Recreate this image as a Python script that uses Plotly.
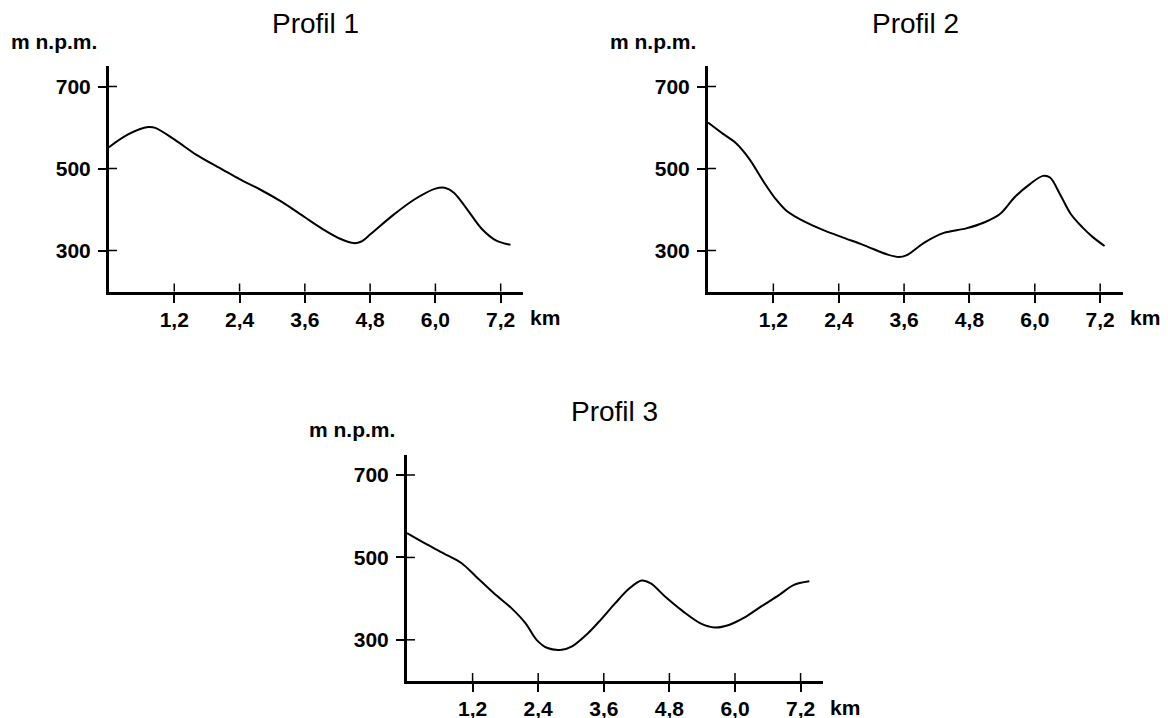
import plotly.graph_objects as go

# ---- data ----
dist1 = [0, 0.35, 0.72, 0.85, 1.2, 1.6, 2.08, 2.4, 2.76, 3.17, 3.6, 3.92, 4.26, 4.5,
         4.64, 4.81, 5.21, 5.62, 6.0, 6.17, 6.34, 6.58, 6.85, 7.12, 7.38]
elev1 = [552, 583, 601, 599, 571, 534, 498, 474, 450, 419, 381, 353, 328, 318,
         322, 340, 385, 425, 451, 453, 441, 401, 353, 324, 314]

dist2 = [0, 0.27, 0.52, 0.76, 1.03, 1.24, 1.44, 1.79, 2.13, 2.47, 2.88, 3.3, 3.5, 3.64,
         3.98, 4.33, 4.74, 5.08, 5.36, 5.63, 5.91, 6.15, 6.28, 6.46, 6.66, 6.87, 7.07, 7.28]
elev2 = [612, 585, 561, 523, 466, 426, 397, 369, 349, 332, 312, 290, 284, 288,
         320, 343, 354, 369, 389, 430, 462, 482, 478, 438, 389, 357, 332, 311]

dist3 = [0, 0.33, 0.67, 1.0, 1.26, 1.59, 1.91, 2.17, 2.37, 2.57, 2.83, 3.02, 3.28, 3.54,
         3.81, 4.07, 4.29, 4.46, 4.72, 5.05, 5.37, 5.63, 5.89, 6.16, 6.48, 6.81, 7.07, 7.36]
elev3 = [559, 534, 510, 486, 454, 413, 377, 340, 300, 280, 276, 284, 312, 348,
         389, 425, 444, 437, 405, 369, 340, 330, 336, 353, 381, 409, 433, 442]

titles = ["Profil 1", "Profil 2", "Profil 3"]
x_tickvals = [1.2, 2.4, 3.6, 4.8, 6.0, 7.2]
x_ticktext = ["1,2", "2,4", "3,6", "4,8", "6,0", "7,2"]
y_tickvals = [300, 500, 700]
y_unit = "m n.p.m."
x_unit = "km"
x_range = [0, 7.61]
y_range = [200, 750]

series = [(dist1, elev1), (dist2, elev2), (dist3, elev3)]

# ---- layout geometry (compensating the page's 8px body margin) ----
W, H = 1168, 718
domains = [
    ((0.08647, 0.44092), (0.60515, 0.91922)),
    ((0.59932, 0.95420), (0.60515, 0.91922)),
    ((0.34161, 0.69777), (0.06267, 0.37813)),
]

FONT = "Liberation Sans, Arial, sans-serif"
fig = go.Figure()
shapes = []
annotations = []
layout = dict(
    width=W, height=H, autosize=False,
    margin=dict(l=0, r=0, t=0, b=0),
    paper_bgcolor="white", plot_bgcolor="white",
    showlegend=False,
    font=dict(family=FONT, color="black"),
)

for i, ((xs, ys), (xd, yd), title) in enumerate(zip(series, domains, titles)):
    n = "" if i == 0 else str(i + 1)
    xa, ya = "x" + n, "y" + n
    fig.add_trace(go.Scatter(
        x=xs, y=ys, mode="lines", xaxis=xa, yaxis=ya,
        line=dict(color="black", width=2, shape="spline", smoothing=0.9),
        hoverinfo="skip",
    ))
    layout["xaxis" + n] = dict(
        domain=list(xd), anchor=ya, range=x_range,
        showline=True, linecolor="black", linewidth=3,
        ticks="outside", ticklen=8, tickwidth=1.5, tickcolor="black",
        tickvals=x_tickvals, ticktext=x_ticktext,
        tickfont=dict(family=FONT, size=21, color="black", weight="bold"),
        ticklabelstandoff=-1,
        showgrid=False, zeroline=False, fixedrange=True,
    )
    layout["yaxis" + n] = dict(
        domain=list(yd), anchor=xa, range=y_range,
        showline=True, linecolor="black", linewidth=3,
        ticks="outside", ticklen=8, tickwidth=1.5, tickcolor="black",
        tickvals=y_tickvals,
        tickfont=dict(family=FONT, size=21, color="black", weight="bold"),
        ticklabelstandoff=3,
        showgrid=False, zeroline=False, fixedrange=True,
    )
    dom_w = (xd[1] - xd[0]) * W
    dom_h = (yd[1] - yd[0]) * H
    for v in x_tickvals:
        shapes.append(dict(type="line", xref=xa, yref=ya + " domain",
                           x0=v, x1=v, y0=0, y1=8 / dom_h,
                           line=dict(color="black", width=1.5)))
    for v in y_tickvals:
        shapes.append(dict(type="line", xref=xa + " domain", yref=ya,
                           x0=0, x1=8 / dom_w, y0=v, y1=v,
                           line=dict(color="black", width=1.5)))
    annotations.append(dict(text=title, xref=xa + " domain", yref=ya + " domain",
                            x=0.5, y=1, yshift=43, xanchor="center", yanchor="middle",
                            showarrow=False, font=dict(family=FONT, size=28, color="black")))
    annotations.append(dict(text=y_unit, xref=xa + " domain", yref=ya + " domain",
                            x=0, y=1, xshift=-10, yshift=25, xanchor="right", yanchor="middle",
                            showarrow=False,
                            font=dict(family=FONT, size=21, color="black", weight="bold")))
    annotations.append(dict(text=x_unit, xref=xa + " domain", yref=ya + " domain",
                            x=1, y=0, xshift=5, yshift=-26, xanchor="left", yanchor="middle",
                            showarrow=False,
                            font=dict(family=FONT, size=21, color="black", weight="bold")))

layout["shapes"] = shapes
layout["annotations"] = annotations
fig.update_layout(**layout)
fig.write_html("out.html")
